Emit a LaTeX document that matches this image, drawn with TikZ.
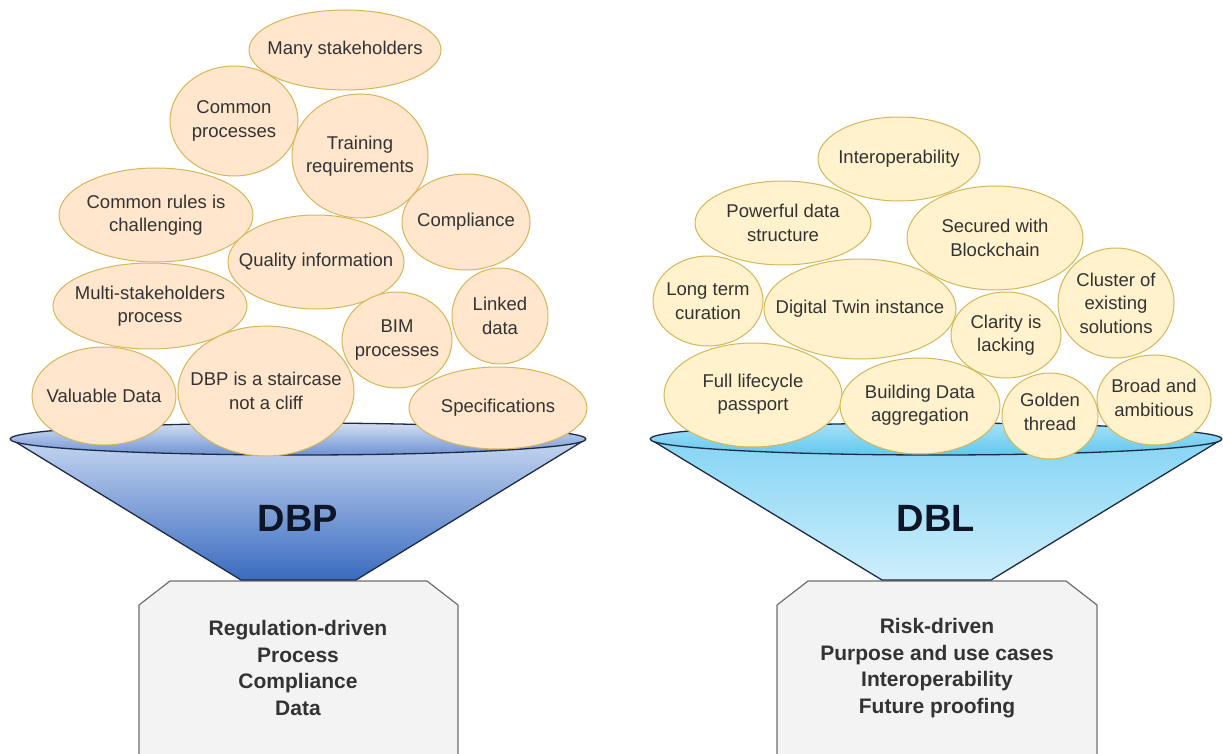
\documentclass[tikz,border=0pt]{standalone}
\usepackage{fontspec}
\setmainfont{Liberation Sans}

\definecolor{bubbleline}{HTML}{D6B656}
\definecolor{dbpfill}{HTML}{FFE6CC}
\definecolor{dblfill}{HTML}{FFF2CC}
\definecolor{itemtext}{HTML}{333333}
\definecolor{funnelline}{HTML}{1F2A44}
\definecolor{labeltext}{HTML}{0D1526}
\definecolor{boxline}{HTML}{6E6E6E}
\definecolor{boxfill}{HTML}{F3F3F3}
\definecolor{dbpconetop}{HTML}{C3D4F0}
\definecolor{dbpconebot}{HTML}{3A6BC0}
\definecolor{dbprimtop}{HTML}{D2DFF3}
\definecolor{dbprimbot}{HTML}{6E92D3}
\definecolor{dblconetop}{HTML}{86D5F4}
\definecolor{dblconebot}{HTML}{CDEEFB}
\definecolor{dblrimtop}{HTML}{A5E0F8}
\definecolor{dblrimbot}{HTML}{62C8EE}

\begin{document}
\begin{tikzpicture}[x=1pt,y=1pt,yscale=-1,
  dbp bubble/.style={draw=bubbleline,fill=dbpfill,line width=1pt},
  dbl bubble/.style={draw=bubbleline,fill=dblfill,line width=1pt},
  bubble text/.style={align=center,inner sep=0pt,text=itemtext,font=\fontsize{18.5}{23.5}\selectfont},
  funnel edge/.style={draw=funnelline,line width=1.3pt,line join=round},
  funnel label/.style={inner sep=0pt,text=labeltext,font=\fontsize{38}{40}\selectfont\bfseries},
  result box/.style={draw=boxline,fill=boxfill,line width=1.2pt,line join=round},
  box text/.style={align=center,inner sep=0pt,text=itemtext,font=\fontsize{21}{26.5}\selectfont\bfseries}]
\useasboundingbox (0,0) rectangle (1223,754);

%Shape: Result box DBP
\draw[result box] (139,780) -- (139,605) -- (170,581) -- (427,581) -- (458,605) -- (458,780) ;
\node[box text] (dbpout) at (298,668) {Regulation-driven\\Process\\Compliance\\Data};
%Shape: Result box DBL
\draw[result box] (777,780) -- (777,605) -- (808,581) -- (1066,581) -- (1097,605) -- (1097,780) ;
\node[box text] (dblout) at (937,668) {Risk-driven\\Purpose and use cases\\Interoperability\\Future proofing};

%Shape: Funnel DBP
\shade[top color=dbpconetop,bottom color=dbpconebot] (14,441) -- (241,580) -- (356,580) -- (583,441) -- cycle ;
\draw[funnel edge] (14,441) -- (241,580) -- (356,580) -- (583,441) ;
\shade[top color=dbprimtop,bottom color=dbprimbot] (298,439) ellipse [x radius=288, y radius=16] ;
\draw[funnel edge] (298,439) ellipse [x radius=288, y radius=16] ;
\node[funnel label] (dbp) at (298,518) {DBP};
%Shape: Funnel DBL
\shade[top color=dblconetop,bottom color=dblconebot] (653,441) -- (882,580) -- (991,580) -- (1219,441) -- cycle ;
\draw[funnel edge] (653,441) -- (882,580) -- (991,580) -- (1219,441) ;
\shade[top color=dblrimtop,bottom color=dblrimbot] (936,439) ellipse [x radius=286, y radius=16] ;
\draw[funnel edge] (936,439) ellipse [x radius=286, y radius=16] ;
\node[funnel label] (dbl) at (936,518) {DBL};

%Shape: Ellipse
\draw[dbp bubble] (345,50) ellipse [x radius=96, y radius=40] ;
\node[bubble text] (many) at (345,50) {Many stakeholders};
%Shape: Ellipse
\draw[dbp bubble] (234,121) ellipse [x radius=64, y radius=55] ;
\node[bubble text] (cproc) at (234,121) {Common\\processes};
%Shape: Ellipse
\draw[dbp bubble] (360,156) ellipse [x radius=68, y radius=62] ;
\node[bubble text] (train) at (360,156) {Training\\requirements};
%Shape: Ellipse
\draw[dbp bubble] (156,215) ellipse [x radius=97, y radius=47] ;
\node[bubble text] (crules) at (156,215) {Common rules is\\challenging};
%Shape: Ellipse
\draw[dbp bubble] (466,222) ellipse [x radius=64, y radius=48] ;
\node[bubble text] (compl) at (466,222) {Compliance};
%Shape: Ellipse
\draw[dbp bubble] (316,262) ellipse [x radius=88, y radius=47] ;
\node[bubble text] (quality) at (316,262) {Quality information};
%Shape: Ellipse
\draw[dbp bubble] (150,306) ellipse [x radius=97, y radius=43] ;
\node[bubble text] (multi) at (150,306) {Multi-stakeholders\\process};
%Shape: Ellipse
\draw[dbp bubble] (500,316) ellipse [x radius=48, y radius=48] ;
\node[bubble text] (linked) at (500,316) {Linked\\data};
%Shape: Ellipse
\draw[dbp bubble] (397,340) ellipse [x radius=55, y radius=48] ;
\node[bubble text] (bim) at (397,340) {BIM\\processes};
%Shape: Ellipse
\draw[dbp bubble] (104,396) ellipse [x radius=72, y radius=49] ;
\node[bubble text] (valuable) at (104,396) {Valuable Data};
%Shape: Ellipse
\draw[dbp bubble] (266,391) ellipse [x radius=88, y radius=65] ;
\node[bubble text] (stair) at (266,391) {DBP is a staircase\\not a cliff};
%Shape: Ellipse
\draw[dbp bubble] (498,408) ellipse [x radius=89, y radius=41] ;
\node[bubble text] (spec) at (498,408) {Specifications};

%Shape: Ellipse
\draw[dbl bubble] (899,159) ellipse [x radius=81, y radius=42] ;
\node[bubble text] (interop) at (899,159) {Interoperability};
%Shape: Ellipse
\draw[dbl bubble] (783,223) ellipse [x radius=88, y radius=42] ;
\node[bubble text] (powerful) at (783,223) {Powerful data\\structure};
%Shape: Ellipse
\draw[dbl bubble] (995,238) ellipse [x radius=88, y radius=52] ;
\node[bubble text] (secured) at (995,238) {Secured with\\Blockchain};
%Shape: Ellipse
\draw[dbl bubble] (708,301) ellipse [x radius=55, y radius=45] ;
\node[bubble text] (longterm) at (708,301) {Long term\\curation};
%Shape: Ellipse
\draw[dbl bubble] (860,309) ellipse [x radius=96, y radius=50] ;
\node[bubble text] (twin) at (860,309) {Digital Twin instance};
%Shape: Ellipse
\draw[dbl bubble] (1116,303) ellipse [x radius=58, y radius=55] ;
\node[bubble text] (cluster) at (1116,303) {Cluster of\\existing\\solutions};
%Shape: Ellipse
\draw[dbl bubble] (1006,335) ellipse [x radius=55, y radius=43] ;
\node[bubble text] (clarity) at (1006,335) {Clarity is\\lacking};
%Shape: Ellipse
\draw[dbl bubble] (753,395) ellipse [x radius=89, y radius=52] ;
\node[bubble text] (lifecycle) at (753,394) {Full lifecycle\\passport};
%Shape: Ellipse
\draw[dbl bubble] (920,406) ellipse [x radius=80, y radius=48] ;
\node[bubble text] (building) at (920,405) {Building Data\\aggregation};
%Shape: Ellipse
\draw[dbl bubble] (1050,416) ellipse [x radius=48, y radius=43] ;
\node[bubble text] (golden) at (1050,412) {Golden\\thread};
%Shape: Ellipse
\draw[dbl bubble] (1154,400) ellipse [x radius=57, y radius=45] ;
\node[bubble text] (broad) at (1154,398) {Broad and\\ambitious};

\end{tikzpicture}
\end{document}
